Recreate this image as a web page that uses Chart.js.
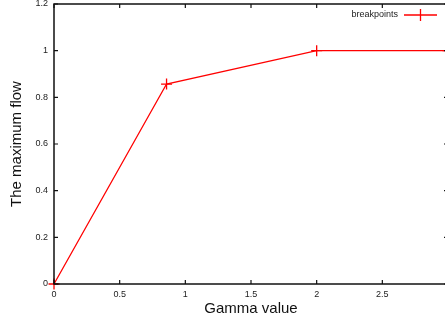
<!DOCTYPE html>
<html>
<head>
<meta charset="utf-8">
<script src="https://cdn.jsdelivr.net/npm/chart.js@4/dist/chart.umd.min.js"></script>
<style>
html,body{margin:0;padding:0;background:#fff;overflow:hidden;}
#wrap{width:445px;height:320px;overflow:hidden;position:relative;}
#c{display:block;}
</style>
</head>
<body>
<div id="wrap"><canvas id="c" width="450" height="320"></canvas></div>
<script>
// Data
const gammaValues = [0, 0.857, 2, 3];
const maxFlowValues = [0, 0.857, 1, 1];
const seriesLabel = 'breakpoints';
const xTitle = 'Gamma value';
const yTitle = 'The maximum flow';
const xRange = [0, 3];
const yRange = [0, 1.2];

const FONT = '"Liberation Sans", Arial, Helvetica, sans-serif';

const framePlugin = {
  id: 'gnuFrame',
  afterDraw(chart) {
    const ctx = chart.ctx;
    const a = chart.chartArea;
    const xs = chart.scales.x, ys = chart.scales.y;
    ctx.save();
    ctx.strokeStyle = '#111';
    ctx.lineWidth = 1.5;
    ctx.strokeRect(a.left, a.top, a.right - a.left, a.bottom - a.top);
    ctx.lineWidth = 1.2;
    const tl = 4;
    ctx.beginPath();
    xs.ticks.forEach(t => {
      const px = xs.getPixelForValue(t.value);
      ctx.moveTo(px, a.bottom); ctx.lineTo(px, a.bottom - tl);
      ctx.moveTo(px, a.top); ctx.lineTo(px, a.top + tl);
    });
    ys.ticks.forEach(t => {
      const py = ys.getPixelForValue(t.value);
      ctx.moveTo(a.left, py); ctx.lineTo(a.left + tl, py);
      ctx.moveTo(a.right, py); ctx.lineTo(a.right - tl, py);
    });
    ctx.stroke();

    // gnuplot-style key: text then sample line with cross
    const ds = chart.data.datasets[0];
    const ky = a.top + 11;
    const lx1 = a.right - 11, lx0 = lx1 - 33;
    ctx.font = '9px ' + FONT;
    ctx.fillStyle = '#222';
    ctx.textAlign = 'right';
    ctx.textBaseline = 'middle';
    ctx.fillText(ds.label, lx0 - 6, ky);
    ctx.strokeStyle = ds.borderColor;
    ctx.lineWidth = 1.3;
    ctx.beginPath();
    ctx.moveTo(lx0, ky); ctx.lineTo(lx1, ky);
    const cx = (lx0 + lx1) / 2;
    ctx.moveTo(cx, ky - 6); ctx.lineTo(cx, ky + 6);
    ctx.stroke();
    ctx.restore();
  }
};

new Chart(document.getElementById('c'), {
  type: 'scatter',
  data: {
    datasets: [{
      label: seriesLabel,
      data: gammaValues.map((g, i) => ({x: g, y: maxFlowValues[i]})),
      showLine: true,
      borderColor: '#ff0000',
      backgroundColor: '#ff0000',
      borderWidth: 1.3,
      pointStyle: 'cross',
      pointRadius: 5.5,
      pointHoverRadius: 5.5,
      pointBorderWidth: 1.3,
      tension: 0,
      clip: false
    }]
  },
  plugins: [framePlugin],
  options: {
    responsive: false,
    animation: false,
    events: [],
    layout: {autoPadding: false, padding: {top: 4, right: 2, left: 0, bottom: 0}},
    plugins: {legend: {display: false}, tooltip: {enabled: false}},
    scales: {
      x: {
        type: 'linear',
        min: xRange[0], max: xRange[1],
        grid: {display: false, drawTicks: false},
        border: {display: false},
        afterFit(s) { s.height = 36; s.paddingLeft = 0; s.paddingRight = 0; },
        ticks: {
          stepSize: 0.5,
          padding: 5,
          maxRotation: 0,
          autoSkip: false,
          color: '#222',
          font: {family: FONT, size: 9},
          callback: v => (v >= xRange[1] ? '' : String(v))
        },
        title: {display: true, text: xTitle, color: '#111', font: {family: FONT, size: 15}, padding: {top: 2, bottom: 2}}
      },
      y: {
        type: 'linear',
        min: yRange[0], max: yRange[1],
        grid: {display: false, drawTicks: false},
        border: {display: false},
        afterFit(s) { s.width = 54; s.paddingTop = 0; s.paddingBottom = 0; },
        ticks: {
          stepSize: 0.2,
          padding: 6,
          color: '#222',
          font: {family: FONT, size: 9},
          callback: v => String(Math.round(v * 10) / 10)
        },
        title: {display: true, text: yTitle, color: '#111', font: {family: FONT, size: 15}, padding: {top: 8, bottom: 0}}
      }
    }
  }
});
</script>
</body>
</html>
